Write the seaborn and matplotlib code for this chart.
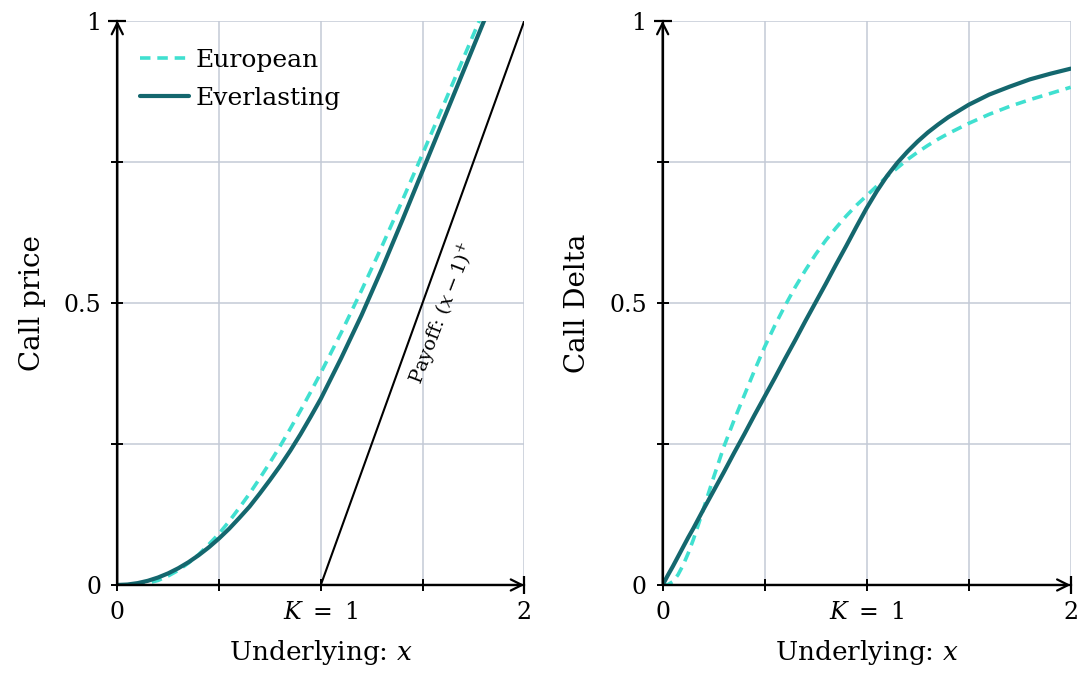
import numpy as np
import pandas as pd
import matplotlib
matplotlib.use("Agg")
import matplotlib.pyplot as plt
import seaborn as sns

# ---------------- data ----------------
x_price = [0.0, 0.05, 0.1, 0.15, 0.2, 0.25, 0.3, 0.35, 0.4, 0.45,
           0.5, 0.55, 0.6, 0.65, 0.7, 0.75, 0.8, 0.85, 0.9, 0.95,
           1.0, 1.1, 1.2, 1.3, 1.4, 1.5, 1.6, 1.7, 1.8, 1.85]
european_price = [0.0, 0.0001, 0.001, 0.0035, 0.008, 0.016, 0.026, 0.039, 0.054, 0.072,
                  0.091, 0.113, 0.137, 0.162, 0.189, 0.217, 0.246, 0.277, 0.309, 0.342,
                  0.376, 0.447, 0.522, 0.600, 0.681, 0.764, 0.848, 0.933, 1.018, 1.06]
everlasting_price = [0.0, 0.0008, 0.0033, 0.0074, 0.0132, 0.0206, 0.0297, 0.0404, 0.0528, 0.0668,
                     0.0825, 0.0998, 0.119, 0.139, 0.162, 0.186, 0.211, 0.238, 0.267, 0.298,
                     0.330, 0.402, 0.478, 0.560, 0.646, 0.734, 0.822, 0.910, 0.998, 1.042]

payoff_x = [1.0, 2.0]
payoff_y = [0.0, 1.0]

x_delta = [0.0, 0.025, 0.05, 0.075, 0.1, 0.125, 0.15, 0.175, 0.2, 0.25,
           0.3, 0.35, 0.4, 0.45, 0.5, 0.55, 0.6, 0.65, 0.7, 0.75,
           0.8, 0.85, 0.9, 0.95, 1.0, 1.05, 1.1, 1.15, 1.2, 1.25,
           1.3, 1.35, 1.4, 1.45, 1.5, 1.6, 1.7, 1.8, 1.9, 2.0]
european_delta = [0.0, 0.0005, 0.006, 0.018, 0.035, 0.056, 0.080, 0.107, 0.135, 0.191,
                  0.245, 0.292, 0.336, 0.380, 0.422, 0.460, 0.495, 0.528, 0.558, 0.586,
                  0.611, 0.633, 0.654, 0.673, 0.690, 0.707, 0.724, 0.739, 0.754, 0.767,
                  0.779, 0.790, 0.800, 0.809, 0.818, 0.834, 0.848, 0.860, 0.871, 0.882]
everlasting_delta = [0.0, 0.017, 0.033, 0.050, 0.067, 0.084, 0.100, 0.117, 0.134, 0.167,
                     0.200, 0.234, 0.267, 0.301, 0.334, 0.367, 0.401, 0.434, 0.468, 0.501,
                     0.534, 0.568, 0.601, 0.635, 0.668, 0.698, 0.725, 0.748, 0.768, 0.786,
                     0.802, 0.816, 0.829, 0.840, 0.851, 0.869, 0.883, 0.896, 0.906, 0.915]

x_ticks = [0, 0.5, 1, 1.5, 2]
x_tick_labels = ["0", "", r"$K\ =\ 1$", "", "2"]
y_ticks = [0, 0.25, 0.5, 0.75, 1]
y_tick_labels = ["0", "", "0.5", "", "1"]

series_labels = ["European", "Everlasting"]

# ---------------- style ----------------
sns.set_theme(style="white")
plt.rcParams["font.family"] = ["DejaVu Serif"]
plt.rcParams["mathtext.fontset"] = "dejavuserif"
for k in ["text.color", "axes.labelcolor", "xtick.color", "ytick.color"]:
    plt.rcParams[k] = "black"

C_EURO = "#40E0D0"
C_EVER = "#14676e"
C_GRID = "#c3cad6"

fig = plt.figure(figsize=(10.89, 6.87), dpi=100)
ax1 = fig.add_axes([0.1077, 0.1485, 0.3738, 0.8214])
ax2 = fig.add_axes([0.6085, 0.1485, 0.3747, 0.8214])

df_price = pd.DataFrame({"x": x_price, "eu": european_price, "ev": everlasting_price})
df_delta = pd.DataFrame({"x": x_delta, "eu": european_delta, "ev": everlasting_delta})


def style_axes(ax, ylabel):
    ax.set_xlim(0, 2)
    ax.set_ylim(0, 1)
    ax.set_xticks(x_ticks, x_tick_labels)
    ax.set_yticks(y_ticks, y_tick_labels)
    ax.grid(True, color=C_GRID, lw=1.1)
    ax.set_axisbelow(True)
    for s in ["top", "right"]:
        ax.spines[s].set_visible(False)
    for s in ["left", "bottom"]:
        ax.spines[s].set_color("black")
        ax.spines[s].set_linewidth(1.6)
        ax.spines[s].set_zorder(5)
    ax.tick_params(direction="inout", length=9, width=1.4, color="black",
                   labelsize=17, pad=7, left=True, bottom=True)
    ax.set_xlabel("Underlying: $x$", fontsize=19, labelpad=10)
    ax.set_ylabel(ylabel, fontsize=20, labelpad=13)
    # arrow heads with end bars
    ax.annotate("", xy=(1, 0), xytext=(0, 0), xycoords="axes fraction",
                arrowprops=dict(arrowstyle="->", lw=1.6, color="black",
                                shrinkA=0, shrinkB=0, mutation_scale=20), zorder=6)
    ax.annotate("", xy=(0, 1), xytext=(0, 0), xycoords="axes fraction",
                arrowprops=dict(arrowstyle="->", lw=1.6, color="black",
                                shrinkA=0, shrinkB=0, mutation_scale=20), zorder=6)
    ax.plot([1], [0], marker="|", ms=13, mew=1.6, color="black",
            transform=ax.transAxes, clip_on=False, zorder=6)
    ax.plot([0], [1], marker="_", ms=13, mew=1.6, color="black",
            transform=ax.transAxes, clip_on=False, zorder=6)


# left panel
sns.lineplot(data=df_price, x="x", y="eu", ax=ax1, color=C_EURO, lw=2.6,
             label=series_labels[0])
ax1.lines[-1].set_dashes((2.9, 1.9))
sns.lineplot(data=df_price, x="x", y="ev", ax=ax1, color=C_EVER, lw=3.0,
             label=series_labels[1])
sns.lineplot(x=payoff_x, y=payoff_y, ax=ax1, color="black", lw=1.5)
ax1.text(1.60, 0.48, "Payoff: $(x - 1)^{+}$", rotation=69, fontsize=14,
         ha="center", va="center", rotation_mode="anchor")
style_axes(ax1, "Call price")
ax1.legend(loc="upper left", bbox_to_anchor=(0.0, 0.99), frameon=False,
           fontsize=18, handlelength=1.95, handletextpad=0.3, labelspacing=0.6)

# right panel
sns.lineplot(data=df_delta, x="x", y="eu", ax=ax2, color=C_EURO, lw=2.6, legend=False)
ax2.lines[-1].set_dashes((2.9, 1.9))
sns.lineplot(data=df_delta, x="x", y="ev", ax=ax2, color=C_EVER, lw=3.0, legend=False)
style_axes(ax2, "Call Delta")

fig.savefig("out.png", dpi=100)
